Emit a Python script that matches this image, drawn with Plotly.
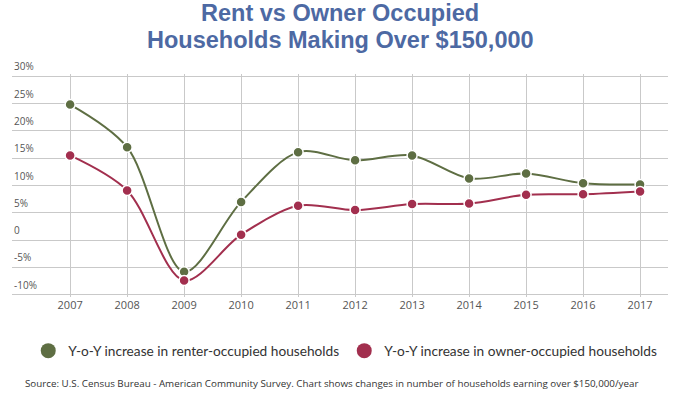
import plotly.graph_objects as go

years = [2007, 2008, 2009, 2010, 2011, 2012, 2013, 2014, 2015, 2016, 2017]
renter = [24.8, 17.0, -5.8, 7.0, 16.1, 14.6, 15.5, 11.3, 12.2, 10.4, 10.2]
owner = [15.5, 9.1, -7.4, 1.0, 6.3, 5.5, 6.6, 6.7, 8.3, 8.4, 8.9]
y_ticks = [-10, -5, 0, 5, 10, 15, 20, 25, 30]
y_labels = ["-10%", "-5%", "0", "5%", "10%", "15%", "20%", "25%", "30%"]
names = ["Y-o-Y increase in renter-occupied households",
         "Y-o-Y increase in owner-occupied households"]
title_lines = ["Rent vs Owner Occupied", "Households Making Over $150,000"]
source = ("Source: U.S. Census Bureau - American Community Survey. "
          "Chart shows changes in number of households earning over $150,000/year")
colors = ["#5e6e43", "#a22f4e"]

fig = go.Figure()
for vals, name, col in zip([renter, owner], names, colors):
    fig.add_trace(go.Scatter(
        x=years, y=vals, mode="lines+markers", name=name, showlegend=False,
        line=dict(color=col, width=2, shape="spline", smoothing=0.9),
        marker=dict(color=col, size=10, line=dict(color="white", width=1.5)),
        hoverinfo="x+y"))
for name, col in zip(names, colors):
    fig.add_trace(go.Scatter(
        x=[None], y=[None], mode="markers", name=name,
        marker=dict(color=col, size=15)))

annotations = []
for line, ypos in zip(title_lines, [1.272, 1.154]):
    annotations.append(dict(
        text=f"<b>{line}</b>", xref="paper", yref="paper", x=0.5, y=ypos,
        xanchor="center", yanchor="middle", showarrow=False, borderpad=0,
        font=dict(family="Liberation Sans", size=23.5, color="#4d69a3")))
for v, lab in zip(y_ticks, y_labels):
    annotations.append(dict(
        text=lab, xref="paper", yref="y", x=0, y=v, xanchor="left",
        yanchor="bottom", yshift=1, showarrow=False,
        font=dict(family="Open Sans", size=10, color="#555555")))
annotations.append(dict(
    text=source, xref="paper", yref="paper", x=0.487, y=-0.389,
    xanchor="center", yanchor="middle", showarrow=False,
    font=dict(family="Open Sans", size=9.8, color="#333333")))

fig.update_layout(
    width=680, height=405,
    margin=dict(l=12, r=12, t=73.8, b=107.8),
    paper_bgcolor="white", plot_bgcolor="white",
    xaxis=dict(range=[2005.98, 2017.49], tickvals=years,
               ticktext=[str(y) for y in years], showgrid=True,
               gridcolor="#c9c9c9", gridwidth=1, zeroline=False,
               showline=False, ticks="",
               tickfont=dict(family="Open Sans", size=11, color="#555555")),
    yaxis=dict(range=[-10.4, 30.4], tickvals=y_ticks, showticklabels=False,
               showgrid=True, gridcolor="#c9c9c9", gridwidth=1,
               zeroline=False, showline=False, ticks=""),
    legend=dict(orientation="h", x=0.508, xanchor="center", y=-0.241,
                yanchor="middle",
                font=dict(family="Lato", size=13.7, color="#333333"),
                itemsizing="trace", traceorder="normal"),
    annotations=annotations,
)

fig.write_html("out.html", config={"displayModeBar": False},
               post_script="document.body.style.margin='0';")
